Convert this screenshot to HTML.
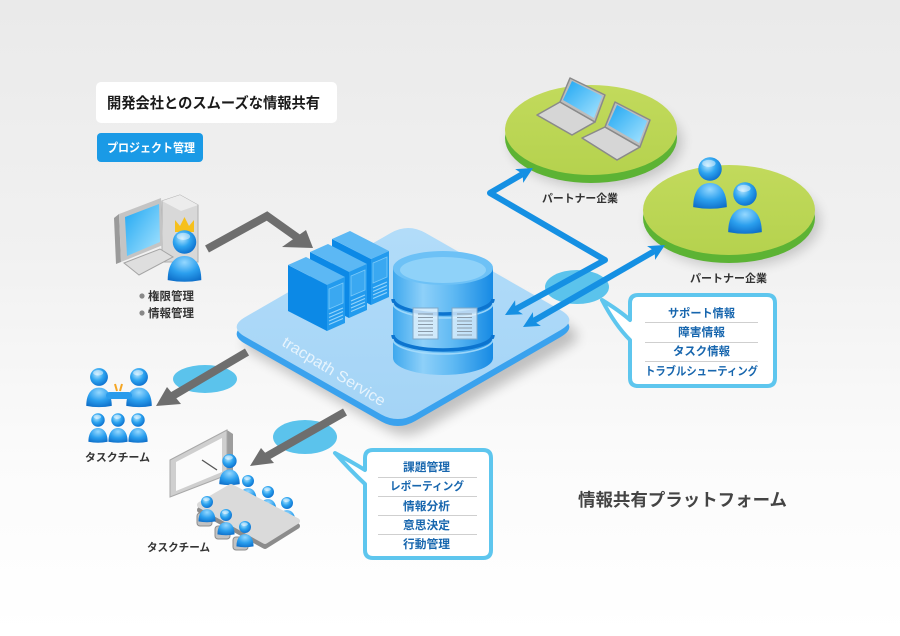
<!DOCTYPE html>
<html><head><meta charset="utf-8"><style>
html,body{margin:0;padding:0;width:900px;height:636px;overflow:hidden;background:#fff}
svg{display:block}
text{font-family:"Liberation Sans","Noto Sans CJK JP",sans-serif;font-weight:bold}
</style></head><body>
<svg width="900" height="636" viewBox="0 0 900 636" xmlns="http://www.w3.org/2000/svg">
<defs>
<linearGradient id="bg" x1="0" y1="0" x2="0" y2="1">
<stop offset="0" stop-color="#eaeaea"/><stop offset="0.4" stop-color="#f1f1f1"/><stop offset="0.72" stop-color="#fbfbfb"/><stop offset="1" stop-color="#ffffff"/>
</linearGradient>
<radialGradient id="gh" cx="0.4" cy="0.35" r="0.7"><stop offset="0" stop-color="#b5e6ff"/><stop offset="0.5" stop-color="#2ea5f0"/><stop offset="1" stop-color="#0a6ccc"/></radialGradient>
<radialGradient id="gb" cx="0.5" cy="0.25" r="0.85"><stop offset="0" stop-color="#95d8ff"/><stop offset="0.5" stop-color="#2b9fee"/><stop offset="1" stop-color="#0a68c4"/></radialGradient>
<linearGradient id="dbg" x1="0" y1="0" x2="1" y2="0"><stop offset="0" stop-color="#3ea8ee"/><stop offset="0.3" stop-color="#8ed0f9"/><stop offset="0.6" stop-color="#5fb9f3"/><stop offset="1" stop-color="#168ae4"/></linearGradient>
<linearGradient id="plat" x1="0" y1="0" x2="0" y2="1"><stop offset="0" stop-color="#b2dcf9"/><stop offset="1" stop-color="#a4d4f6"/></linearGradient>
<linearGradient id="scr" x1="0" y1="0" x2="1" y2="1"><stop offset="0" stop-color="#1ea6f2"/><stop offset="1" stop-color="#a8e4ff"/></linearGradient>
<linearGradient id="gr" x1="0" y1="0" x2="0" y2="1"><stop offset="0" stop-color="#c2da5c"/><stop offset="1" stop-color="#b5d24e"/></linearGradient>
<filter id="bl" x="-30%" y="-30%" width="160%" height="160%"><feGaussianBlur stdDeviation="6"/></filter>
<g id="p">
<path d="M-15,34 C-15,20 -9,12.5 0,12.5 C9,12.5 15,20 15,34 Q0,37 -15,34 Z" fill="url(#gb)"/>
<circle r="10.5" fill="url(#gh)"/>
<ellipse cx="-1" cy="-5" rx="6" ry="3.2" fill="#fff" opacity="0.45"/>
</g>
<g id="srv">
<polygon points="288,265 327,285 327,331 288,311" fill="#0c89e6"/>
<polygon points="327,285 345,277 345,323 327,331" fill="#239bee"/>
<polygon points="288,265 327,285 345,277 306,257" fill="#5cb8f4"/>
<polygon points="329,289 343,283 343,303 329,309" fill="#3aa8f1" stroke="#7ccaf9" stroke-width="0.8"/>
<g stroke="#93d3fb" stroke-width="1.2">
<line x1="329" y1="314" x2="343" y2="308"/><line x1="329" y1="317.5" x2="343" y2="311.5"/><line x1="329" y1="321" x2="343" y2="315"/><line x1="329" y1="324.5" x2="343" y2="318.5"/>
</g>
</g>
<g id="doc">
<rect x="0" y="0" width="25" height="31" fill="#eef6fc" fill-opacity="0.75" stroke="#7fa8c8" stroke-width="1"/>
<g stroke="#8a9aa8" stroke-width="1"><line x1="5" y1="6" x2="20" y2="6"/><line x1="5" y1="9.5" x2="20" y2="9.5"/><line x1="5" y1="13" x2="20" y2="13"/><line x1="5" y1="16.5" x2="20" y2="16.5"/><line x1="5" y1="20" x2="20" y2="20"/><line x1="5" y1="23.5" x2="20" y2="23.5"/><line x1="5" y1="27" x2="20" y2="27"/></g>
</g>
</defs>

<rect width="900" height="636" fill="url(#bg)"/>

<!-- title -->
<rect x="96" y="82" width="241" height="41" rx="5" fill="#fff"/>
<text x="107" y="108" font-size="15" fill="#1a1a1a" textLength="213" lengthAdjust="spacingAndGlyphs">開発会社とのスムーズな情報共有</text>
<rect x="97" y="133" width="106" height="29" rx="4" fill="#1a9ae6"/>
<text x="107" y="152" font-size="12" fill="#fff" textLength="88" lengthAdjust="spacingAndGlyphs">プロジェクト管理</text>

<!-- green ellipses -->
<ellipse cx="596" cy="142" rx="86" ry="45" fill="#000" opacity="0.18" filter="url(#bl)"/>
<ellipse cx="591" cy="138" rx="86" ry="45" fill="#5cb334"/>
<ellipse cx="591" cy="130" rx="86" ry="45" fill="url(#gr)"/>
<ellipse cx="734" cy="222" rx="86" ry="45" fill="#000" opacity="0.18" filter="url(#bl)"/>
<ellipse cx="729" cy="218" rx="86" ry="45" fill="#5cb334"/>
<ellipse cx="729" cy="210" rx="86" ry="45" fill="url(#gr)"/>

<!-- laptops -->
<g stroke="#8a8a8a" stroke-width="1.5" stroke-linejoin="round">
<polygon points="537,115 560,102 595,122 572,135" fill="#d6d6d6"/>
<polygon points="560,102 570,78 605,95 595,122" fill="#bdbdbd"/>
<polygon points="582,138 605,127 640,147 617,160" fill="#d6d6d6"/>
<polygon points="605,127 615,102 650,120 640,147" fill="#bdbdbd"/>
</g>
<polygon points="563,100 572,81 602,96 594,118" fill="url(#scr)"/>
<polygon points="608,125 617,105 647,121 639,143" fill="url(#scr)"/>

<!-- partner people -->
<use href="#p" transform="translate(710,169) scale(1.12)"/>
<use href="#p" transform="translate(745,194) scale(1.12)"/>

<text x="542" y="202" font-size="11" fill="#333" textLength="76" lengthAdjust="spacingAndGlyphs">パートナー企業</text>
<text x="690" y="282" font-size="11" fill="#333" textLength="77" lengthAdjust="spacingAndGlyphs">パートナー企業</text>

<!-- admin computer -->
<polygon points="162,201 180,195 198,205 198,262 162,262" fill="#d8d8d8" stroke="#b0b0b0" stroke-width="1"/>
<polygon points="162,201 180,195 198,205 181,211" fill="#ececec"/>
<polygon points="114,218 119,214 121,262 116,264" fill="#9a9a9a"/>
<polygon points="119,214 161,198 163,245 121,262" fill="#c4c4c4"/>
<polygon points="125,217 159,204 160,242 127,256" fill="url(#scr)"/>
<polygon points="124,263 160,249 173,257 139,275" fill="#dedede" stroke="#a5a5a5" stroke-width="1"/>
<polygon points="175,232 175,220 180,226 184.5,217 189,226 194,220 194,232" fill="#f6c01c"/>
<use href="#p" transform="translate(184.5,242) scale(1.12)"/>
<circle cx="142" cy="296" r="2.6" fill="#888"/>
<circle cx="142" cy="313" r="2.6" fill="#888"/>
<text x="148" y="300" font-size="11.5" fill="#333" textLength="46" lengthAdjust="spacingAndGlyphs">権限管理</text>
<text x="148" y="317" font-size="11.5" fill="#333" textLength="46" lengthAdjust="spacingAndGlyphs">情報管理</text>

<!-- gray arrow top -->
<polyline points="207,249 267,216 298,238" fill="none" stroke="#6e6e6e" stroke-width="8" stroke-linejoin="miter"/>
<polygon points="282,247 313,248 306,230" fill="#6e6e6e"/>

<!-- platform -->
<path d="M245.3,317 L390.7,233 Q408,223 425.4,232.9 L560.6,310.1 Q578,320 560.7,330 L415.3,414 Q398,424 380.6,414.1 L245.4,336.9 Q228,327 245.3,317 Z" transform="translate(8,16)" fill="#000" opacity="0.22" filter="url(#bl)"/>
<path d="M245.3,317 L390.7,233 Q408,223 425.4,232.9 L560.6,310.1 Q578,320 560.7,330 L415.3,414 Q398,424 380.6,414.1 L245.4,336.9 Q228,327 245.3,317 Z" transform="translate(0,7)" fill="#3aa2ee"/>
<path d="M245.3,317 L390.7,233 Q408,223 425.4,232.9 L560.6,310.1 Q578,320 560.7,330 L415.3,414 Q398,424 380.6,414.1 L245.4,336.9 Q228,327 245.3,317 Z" fill="url(#plat)"/>
<text x="0" y="0" transform="translate(281,345) rotate(31.5)" font-size="15.5" fill="#fff" fill-opacity="0.72" font-weight="normal" textLength="118" lengthAdjust="spacingAndGlyphs" style="font-weight:normal">tracpath Service</text>

<!-- servers -->
<use href="#srv" transform="translate(44,-26)"/>
<use href="#srv" transform="translate(22,-13)"/>
<use href="#srv"/>

<!-- database -->
<path d="M393,268 V358 A50,17 0 0 0 493,358 V268 Z" fill="url(#dbg)"/>
<path d="M393,299 A50,15 0 0 0 493,299" fill="none" stroke="#0c74cf" stroke-width="3.5"/>
<path d="M393,303 A50,15 0 0 0 493,303" fill="none" stroke="#a8ddfb" stroke-width="1.6" opacity="0.85"/>
<path d="M393,335 A50,15 0 0 0 493,335" fill="none" stroke="#0c74cf" stroke-width="3.5"/>
<path d="M393,339 A50,15 0 0 0 493,339" fill="none" stroke="#a8ddfb" stroke-width="1.6" opacity="0.85"/>
<ellipse cx="443" cy="268" rx="50" ry="17" fill="#6dc1f6"/>
<ellipse cx="443" cy="270" rx="43" ry="13" fill="#8fd2f9"/>
<use href="#doc" transform="translate(413,308)"/>
<use href="#doc" transform="translate(452,308)"/>

<!-- blobs -->
<ellipse cx="577" cy="287" rx="32" ry="17" fill="#5bc3ec"/>
<ellipse cx="205" cy="379" rx="32" ry="14" fill="#5bc3ec"/>
<ellipse cx="305" cy="437" rx="32" ry="17" fill="#5bc3ec"/>

<!-- blue arrows -->
<polyline points="515.5,309.2 605,260 490,193 522.6,174" fill="none" stroke="#1590e3" stroke-width="6" stroke-linejoin="round"/>
<polygon points="505,315 515.1,300.3 515.5,309.2 522.9,314.3" fill="#1590e3"/>
<polygon points="533,168 515.2,169.1 522.6,174 523.2,182.9" fill="#1590e3"/>
<line x1="533.4" y1="321" x2="654.6" y2="251" stroke="#1590e3" stroke-width="6"/>
<polygon points="665,245 647.1,246.1 654.6,251 655.1,259.9" fill="#1590e3"/>
<polygon points="523,327 532.9,312.1 533.4,321 540.9,325.9" fill="#1590e3"/>

<!-- gray arrows lower -->
<line x1="247" y1="352" x2="169" y2="398" stroke="#6e6e6e" stroke-width="8"/>
<polygon points="156,406 181,404 167,387" fill="#6e6e6e"/>
<line x1="345" y1="412" x2="264" y2="458" stroke="#6e6e6e" stroke-width="8"/>
<polygon points="250,466 274,463 261,448" fill="#6e6e6e"/>

<!-- right callout -->
<path d="M638,295 H767 Q775,295 775,303 V378 Q775,386 767,386 H638 Q630,386 630,378 V340 Q615,325 602,300 Q620,311 630,320 V303 Q630,295 638,295 Z" fill="#fff" stroke="#5ec6ee" stroke-width="4" stroke-linejoin="round"/>
<g stroke="#cfcfcf" stroke-width="1"><line x1="645" y1="322.5" x2="758" y2="322.5"/><line x1="645" y1="342.5" x2="758" y2="342.5"/><line x1="645" y1="361.5" x2="758" y2="361.5"/></g>
<g font-size="11.5" fill="#1766ae">
<text x="668" y="317" textLength="67" lengthAdjust="spacingAndGlyphs">サポート情報</text>
<text x="678" y="336" textLength="47" lengthAdjust="spacingAndGlyphs">障害情報</text>
<text x="673" y="355" textLength="57" lengthAdjust="spacingAndGlyphs">タスク情報</text>
<text x="645" y="375" textLength="113" lengthAdjust="spacingAndGlyphs">トラブルシューティング</text>
</g>

<!-- bottom callout -->
<path d="M373,450 H483 Q491,450 491,458 V550 Q491,558 483,558 H373 Q365,558 365,550 V484 Q350,470 335,453 Q352,462 365,470 V458 Q365,450 373,450 Z" fill="#fff" stroke="#5ec6ee" stroke-width="4" stroke-linejoin="round"/>
<g stroke="#cfcfcf" stroke-width="1"><line x1="378" y1="477.5" x2="477" y2="477.5"/><line x1="378" y1="496.5" x2="477" y2="496.5"/><line x1="378" y1="515.5" x2="477" y2="515.5"/><line x1="378" y1="534.5" x2="477" y2="534.5"/></g>
<g font-size="11.5" fill="#1766ae">
<text x="403" y="471" textLength="47" lengthAdjust="spacingAndGlyphs">課題管理</text>
<text x="390" y="490" textLength="74" lengthAdjust="spacingAndGlyphs">レポーティング</text>
<text x="403" y="510" textLength="47" lengthAdjust="spacingAndGlyphs">情報分析</text>
<text x="403" y="529" textLength="47" lengthAdjust="spacingAndGlyphs">意思決定</text>
<text x="403" y="548" textLength="47" lengthAdjust="spacingAndGlyphs">行動管理</text>
</g>

<!-- task team 1 -->
<use href="#p" transform="translate(99,377) scale(0.85)"/>
<use href="#p" transform="translate(139,377) scale(0.85)"/>
<rect x="106" y="392" width="26" height="7" rx="3.5" fill="#2a9cec"/>
<line x1="115" y1="384" x2="117" y2="391" stroke="#f5a623" stroke-width="2"/>
<line x1="122" y1="384" x2="120" y2="391" stroke="#f5a623" stroke-width="2"/>
<use href="#p" transform="translate(98,420) scale(0.64)"/>
<use href="#p" transform="translate(118,420) scale(0.64)"/>
<use href="#p" transform="translate(138,420) scale(0.64)"/>
<text x="85" y="461" font-size="11" fill="#333" textLength="65" lengthAdjust="spacingAndGlyphs">タスクチーム</text>

<!-- meeting -->
<polygon points="227,430 233,434 233,478 227,475" fill="#9d9d9d"/>
<polygon points="170,460 227,430 227,475 170,497" fill="#cfcfcf" stroke="#a8a8a8" stroke-width="1"/>
<polygon points="176,462 222,438 222,472 176,491" fill="#fbfbfb"/>
<line x1="202" y1="460" x2="217" y2="470" stroke="#555" stroke-width="1.3"/>
<use href="#p" transform="translate(229.5,461) scale(0.68)"/>
<use href="#p" transform="translate(248,481) scale(0.57)"/>
<use href="#p" transform="translate(268,492) scale(0.57)"/>
<use href="#p" transform="translate(287,503) scale(0.57)"/>
<polygon points="200,510 231,492 297,526 265,546" fill="#8c8c8c" stroke="#8c8c8c" stroke-width="6" stroke-linejoin="round"/>
<polygon points="200,505 231,487 297,521 265,541" fill="#dadada" stroke="#dadada" stroke-width="6" stroke-linejoin="round"/>
<g fill="#c2c2c2" stroke="#8d8d8d" stroke-width="1">
<rect x="197" y="513" width="15" height="13" rx="3"/>
<rect x="215" y="526" width="15" height="13" rx="3"/>
<rect x="233" y="537" width="15" height="13" rx="3"/>
</g>
<use href="#p" transform="translate(207,502) scale(0.57)"/>
<use href="#p" transform="translate(226,515) scale(0.57)"/>
<use href="#p" transform="translate(245,527) scale(0.57)"/>
<text x="147" y="551" font-size="11" fill="#333" textLength="63" lengthAdjust="spacingAndGlyphs">タスクチーム</text>

<!-- bottom right label -->
<text x="578" y="506" font-size="17.5" fill="#444" textLength="209" lengthAdjust="spacingAndGlyphs">情報共有プラットフォーム</text>
</svg>
</body></html>
